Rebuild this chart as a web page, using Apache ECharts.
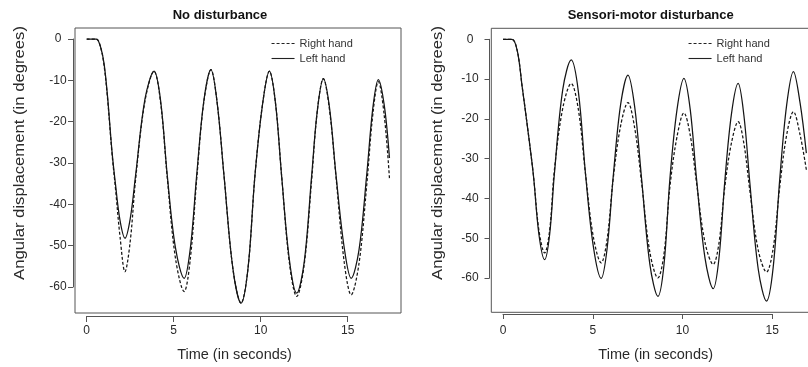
<!DOCTYPE html>
<html><head><meta charset="utf-8">
<script src="https://cdn.jsdelivr.net/npm/echarts@6/dist/echarts.min.js"></script>
<style>html,body{margin:0;padding:0;background:#fff}#c{width:808px;height:367px}</style>
</head><body><div id="c"></div>
<script>
// ---------- data ----------
const xTicks = [0, 5, 10, 15];
const yTicks = [0, -10, -20, -30, -40, -50, -60];
const seriesNames = ['Right hand', 'Left hand'];
const panelTitles = ['No disturbance', 'Sensori-motor disturbance'];
const xTitle = 'Time (in seconds)';
const yTitle = 'Angular displacement (in degrees)';

const noDistTime = [0, 0.55, 0.8, 1.0, 1.2, 1.45, 1.65, 1.92, 2.2, 2.5, 2.81, 3.35, 3.87, 4.25, 4.63, 5.1, 5.6, 5.96, 6.32, 6.73, 7.14, 7.5, 7.89, 8.4, 8.87, 9.27, 9.67, 10.1, 10.5, 10.85, 11.2, 11.65, 12.07, 12.5, 12.93, 13.25, 13.6, 13.95, 14.33, 14.8, 15.2, 15.65, 16.09, 16.45, 16.76, 17.1, 17.4];
const noDistRight = [0, 0, -2, -6.5, -14.5, -27.5, -36, -48, -56.3, -49, -34, -15, -7.8, -15.5, -33.5, -53, -61.1, -53, -34, -15.3, -7.4, -15.5, -33, -55.5, -63.9, -55.5, -33, -16, -7.8, -15.5, -33, -54.2, -62.3, -54.6, -34, -17.5, -9.6, -17, -33.5, -54, -61.9, -54.3, -35.5, -18, -10.3, -18.5, -33.7];
const noDistLeft = [0, 0, -2, -6, -14, -27, -35, -44, -48.2, -43.5, -33, -14.5, -7.8, -15, -33, -50.5, -57.9, -50.5, -33, -15, -7.4, -15.5, -33, -55.5, -63.9, -55.5, -33, -16, -7.8, -15.5, -33, -53.5, -61.5, -54, -33, -17.5, -9.6, -16.5, -33, -50.5, -57.9, -51, -33, -16.5, -9.8, -16, -28.8];

const sensoriTime = [0, 0.5, 0.8, 1.07, 1.32, 1.69, 2.0, 2.32, 2.6, 2.86, 3.33, 3.8, 4.2, 4.6, 5.03, 5.47, 5.8, 6.14, 6.55, 6.96, 7.34, 7.72, 8.18, 8.63, 8.97, 9.3, 9.69, 10.08, 10.43, 10.78, 11.25, 11.71, 12.03, 12.36, 12.73, 13.1, 13.42, 13.75, 14.22, 14.68, 15.05, 15.42, 15.8, 16.18, 16.55, 16.9];
const sensoriRight = [0, 0, -3, -12, -20.5, -34, -48, -53.7, -48, -33, -17.3, -11.1, -17.7, -34, -49.6, -56.2, -50.3, -35, -21.8, -15.9, -22.4, -36, -53.5, -60.0, -53.9, -37, -24.6, -18.5, -24.1, -36, -51, -56.6, -51.3, -37, -26, -20.7, -26.2, -38, -53, -58.5, -52.6, -37, -24.1, -18.2, -24, -32.8];
const sensoriLeft = [0, 0, -3, -12, -20.5, -34, -49, -55.4, -49, -34, -12.6, -5.2, -13.2, -34, -52, -60.1, -52.6, -34.5, -16.5, -9.0, -17.1, -35, -56.5, -64.6, -56.6, -35, -17.8, -9.8, -17.6, -35, -54.9, -62.7, -55.1, -35.5, -18.7, -11.1, -19.1, -36, -57.8, -65.8, -57.4, -35, -16.6, -8.1, -16, -28.6];

// ---------- layout (pixels) ----------
const FONT = '"Liberation Sans", Arial, sans-serif';
const TXT = '#2a2a2a';
const panels = [
  { time: noDistTime, right: noDistRight, left: noDistLeft,
    plot: { left: 75, top: 28, right: 401, bottom: 313 },
    x0: 86.7, xScale: 17.4, y0: 39, yScale: 4.133,
    xAxisY: 316, yAxisX: 73, xTickLen: 6, yTickLen: 5, yLabelMargin: 15, xLabelMargin: 9,
    title: [220, 15], xTitlePos: [234.5, 355], yTitlePos: [19.5, 153], legend: [271, 38] },
  { time: sensoriTime, right: sensoriRight, left: sensoriLeft,
    plot: { left: 491.3, top: 28.3, right: 827.5, bottom: 312.3 },
    x0: 503, xScale: 17.95, y0: 39.3, yScale: 3.978,
    xAxisY: 314, yAxisX: 489.5, xTickLen: 5, yTickLen: 5, yLabelMargin: 19.5, xLabelMargin: 11,
    title: [650.7, 15], xTitlePos: [655.7, 355], yTitlePos: [438, 153], legend: [688, 38] }
];

const grids = [], xAxes = [], yAxes = [], series = [], legends = [], graphics = [];
const xMin = xTicks[0], xMax = xTicks[xTicks.length - 1], xInt = xTicks[1] - xTicks[0];
const yMax = yTicks[0], yMin = yTicks[yTicks.length - 1], yInt = yTicks[0] - yTicks[1];

panels.forEach((p, i) => {
  const P = p.plot;
  const gPlot = grids.length;
  grids.push({ left: P.left, top: P.top, width: P.right - P.left, height: P.bottom - P.top,
    show: true, borderColor: '#555', borderWidth: 1, backgroundColor: 'transparent',
    containLabel: false, outerBoundsMode: 'none' });
  const xa = xAxes.length;
  xAxes.push({ gridIndex: gPlot, type: 'value', show: false,
    min: (P.left - p.x0) / p.xScale, max: (P.right - p.x0) / p.xScale });
  const ya = yAxes.length;
  yAxes.push({ gridIndex: gPlot, type: 'value', show: false,
    min: -(P.bottom - p.y0) / p.yScale, max: (p.y0 - P.top) / p.yScale });

  const gAx = grids.length;
  const axLeft = p.x0 + xMin * p.xScale, axW = (xMax - xMin) * p.xScale;
  const axTop = p.y0 - yMax * p.yScale, axH = (yMax - yMin) * p.yScale;
  grids.push({ left: axLeft, top: axTop, width: axW, height: axH, show: false,
    containLabel: false, outerBoundsMode: 'none' });
  xAxes.push({ gridIndex: gAx, type: 'value', min: xMin, max: xMax, interval: xInt,
    position: 'bottom', offset: p.xAxisY - (axTop + axH),
    axisLine: { show: true, onZero: false, lineStyle: { color: '#555', width: 1 } },
    axisTick: { show: true, length: p.xTickLen, lineStyle: { color: '#555', width: 1 } },
    axisLabel: { margin: p.xLabelMargin, fontSize: 12, color: TXT, fontFamily: FONT },
    splitLine: { show: false } });
  yAxes.push({ gridIndex: gAx, type: 'value', min: yMin, max: yMax, interval: yInt,
    position: 'left', offset: axLeft - p.yAxisX,
    axisLine: { show: true, onZero: false, lineStyle: { color: '#555', width: 1 } },
    axisTick: { show: true, length: p.yTickLen, lineStyle: { color: '#555', width: 1 } },
    axisLabel: { margin: p.yLabelMargin, align: 'center', fontSize: 12, color: TXT, fontFamily: FONT },
    splitLine: { show: false } });

  const mk = (name, vals, dash) => ({
    name, type: 'line', xAxisIndex: xa, yAxisIndex: ya,
    data: p.time.map((t, k) => [t, vals[k]]),
    symbol: 'none', showSymbol: false, smooth: 0.35, animation: false,
    lineStyle: { color: '#151515', width: 1.25, type: dash ? [3, 2] : 'solid' },
    itemStyle: { color: '#151515' }, emphasis: { disabled: true }
  });
  series.push(mk(seriesNames[0], p.right, true));
  series.push(mk(seriesNames[1], p.left, false));

  legends.push({ data: seriesNames, orient: 'vertical', left: p.legend[0], top: p.legend[1],
    itemWidth: 23, itemHeight: 10, itemGap: 4, padding: 0, selectedMode: false,
    itemStyle: { color: 'rgba(0,0,0,0)', borderColor: 'rgba(0,0,0,0)', borderWidth: 0, opacity: 0 },
    lineStyle: { width: 1.1, color: '#222' },
    textStyle: { fontSize: 11, color: '#333', fontFamily: FONT } });

  graphics.push({ type: 'text', x: p.title[0], y: p.title[1], silent: true,
    style: { text: panelTitles[i], font: 'bold 13px ' + FONT, fill: '#111',
      align: 'center', verticalAlign: 'middle', textAlign: 'center', textVerticalAlign: 'middle' } });
  graphics.push({ type: 'text', x: p.xTitlePos[0], y: p.xTitlePos[1], silent: true,
    style: { text: xTitle, font: '14.5px ' + FONT, fill: TXT,
      align: 'center', verticalAlign: 'middle', textAlign: 'center', textVerticalAlign: 'middle' } });
  graphics.push({ type: 'text', x: p.yTitlePos[0], y: p.yTitlePos[1], rotation: Math.PI / 2,
    scaleX: 1.15, silent: true,
    style: { text: yTitle, font: '14.5px ' + FONT, fill: TXT,
      align: 'center', verticalAlign: 'middle', textAlign: 'center', textVerticalAlign: 'middle' } });
});

const chart = echarts.init(document.getElementById('c'), null, { renderer: 'canvas' });
chart.setOption({
  animation: false,
  backgroundColor: '#fff',
  grid: grids, xAxis: xAxes, yAxis: yAxes, series, legend: legends,
  graphic: graphics
});
</script></body></html>
